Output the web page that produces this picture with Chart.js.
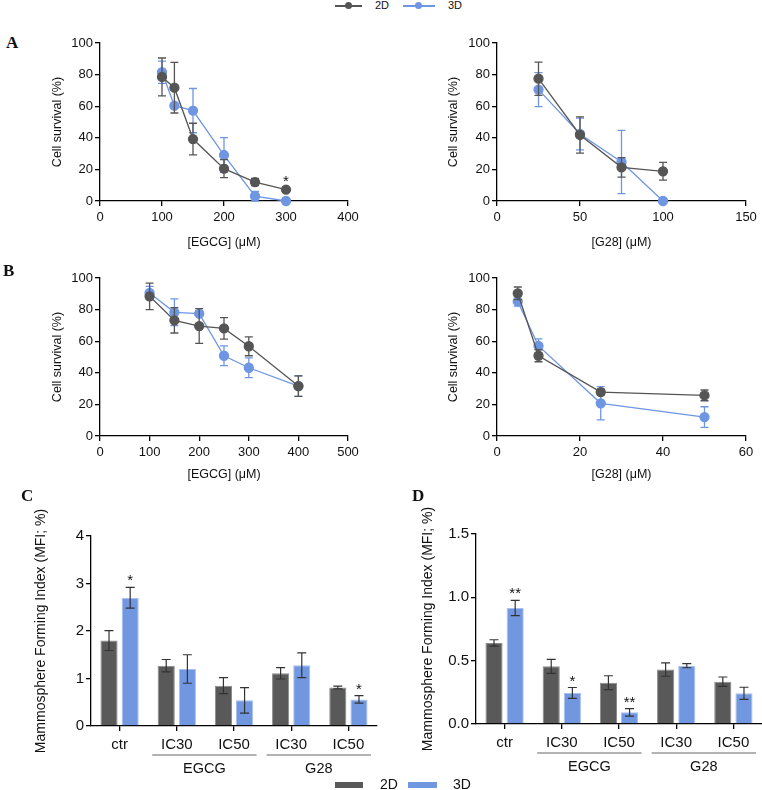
<!DOCTYPE html>
<html>
<head>
<meta charset="utf-8">
<script src="https://cdn.jsdelivr.net/npm/chart.js@4.4.0/dist/chart.umd.min.js"></script>
<style>
  body { margin: 0; background: #fff; width: 762px; height: 790px; position: relative; overflow: hidden;
         font-family: 'Liberation Sans', Arial, sans-serif; color: #111; }
  canvas { position: absolute; }
  .panel { position: absolute; font-family: 'Liberation Serif', 'Times New Roman', serif; font-weight: bold;
           font-size: 17px; line-height: 17px; z-index: 2; }
  .lg { position: absolute; line-height: 1; z-index: 2; }
  .lgline { position: absolute; height: 1.5px; }
  .lgdot { position: absolute; width: 7px; height: 7px; border-radius: 50%; }
  .lgbox { position: absolute; height: 6px; z-index: 2; }
</style>
</head>
<body>

<div class="panel" style="left:6px;top:34px;">A</div>
<div class="panel" style="left:3px;top:262px;">B</div>
<div class="panel" style="left:21px;top:487px;">C</div>
<div class="panel" style="left:412px;top:487px;">D</div>

<!-- top legend (line panels) -->
<div class="lgline" style="left:335px;top:5px;width:27px;background:#555;"></div>
<div class="lgdot" style="left:345px;top:2px;background:#555;"></div>
<div class="lg" style="left:375px;top:0px;font-size:11px;">2D</div>
<div class="lgline" style="left:403px;top:5px;width:32px;background:#6f96e3;"></div>
<div class="lgdot" style="left:415px;top:2px;background:#6f96e3;"></div>
<div class="lg" style="left:448px;top:0px;font-size:11px;">3D</div>

<canvas id="cA1" width="340" height="225" style="left:40px;top:30px;"></canvas>
<canvas id="cA2" width="322" height="225" style="left:440px;top:30px;"></canvas>
<canvas id="cB1" width="340" height="225" style="left:40px;top:265px;"></canvas>
<canvas id="cB2" width="322" height="225" style="left:440px;top:265px;"></canvas>
<canvas id="cC" width="360" height="290" style="left:20px;top:500px;"></canvas>
<canvas id="cD" width="352" height="290" style="left:410px;top:500px;"></canvas>

<!-- bottom legend (bar panels) -->
<div class="lgbox" style="left:335px;top:782px;width:28px;background:#595959;"></div>
<div class="lg" style="left:380px;top:777px;font-size:14px;">2D</div>
<div class="lgbox" style="left:408px;top:782px;width:29px;background:#7097e0;"></div>
<div class="lg" style="left:453px;top:777px;font-size:14px;">3D</div>

<script>
// ---- A: dose response, EGCG ----
const egcgDoseA = [100, 120, 150, 200, 250, 300];
const egcgA2D = [78.5, 71.7, 39.2, 20.5, 12.0, 7.2];
const egcgA2DSd = [12, 16, 10, 5.7, 2.3, 0.6];
const egcgA3D = [81.5, 60.3, 57.2, 29.1, 3.0, 0];
const egcgA3DSd = [7, 1, 14, 11, 3, 0];
const egcgA2DStars = ['', '', '', '', '', '*'];

// ---- A: dose response, G28 ----
const g28DoseA = [25, 50, 75, 100];
const g28A2D = [77.4, 41.8, 21.3, 18.8];
const g28A2DSd = [10.5, 11.5, 6.2, 5.6];
const g28A3D = [70.5, 42.4, 24.7, 0];
const g28A3DSd = [10.8, 10, 20, 0];

// ---- B: dose response, EGCG ----
const egcgDoseB = [100, 150, 200, 250, 300, 400];
const egcgB2D = [88.4, 73.2, 69.6, 68.1, 56.8, 31.6];
const egcgB2DSd = [8.4, 8, 11, 6.8, 6, 6.5];
const egcgB3D = [90.5, 78.3, 77.4, 50.8, 43.2, 31.6];
const egcgB3DSd = [4.2, 8.5, 1.5, 6.3, 6.3, 6.5];

// ---- B: dose response, G28 ----
const g28DoseB = [5, 10, 25, 50];
const g28B2D = [90.3, 50.8, 27.8, 25.7];
const g28B2DSd = [4, 3.8, 1.8, 3.4];
const g28B3D = [85.2, 57.0, 20.7, 12.0];
const g28B3DSd = [3, 4.5, 10.5, 6.5];

// ---- C / D: mammosphere forming index ----
const barCategories = ['ctr', 'IC30', 'IC50', 'IC30', 'IC50'];
const groupNames = ['EGCG', 'G28'];
const groupFirst = [1, 3];
const groupLast = [2, 4];

const mfiC2D = [1.80, 1.27, 0.85, 1.11, 0.81];
const mfiC2DSd = [0.21, 0.13, 0.17, 0.12, 0.03];
const mfiC3D = [2.70, 1.20, 0.54, 1.28, 0.56];
const mfiC3DSd = [0.22, 0.30, 0.27, 0.26, 0.08];
const mfiC3DStars = ['*', '', '', '', '*'];

const mfiD2D = [0.64, 0.455, 0.326, 0.43, 0.334];
const mfiD2DSd = [0.025, 0.055, 0.055, 0.053, 0.037];
const mfiD3D = [0.916, 0.245, 0.092, 0.46, 0.242];
const mfiD3DSd = [0.06, 0.043, 0.03, 0.016, 0.048];
const mfiD3DStars = ['**', '*', '**', '', ''];

const FONT = "'Liberation Sans', Arial, sans-serif";
const DARK = '#555555';
const BLUE = '#6f96e3';

Chart.defaults.color = '#111';
Chart.defaults.font.family = FONT;
Chart.defaults.animation = false;

const toXY = (xs, ys) => xs.map((x, i) => ({ x: x, y: ys[i] }));

// error bars under each line dataset, stars on top
const lineErrPlugin = {
  id: 'lineErr',
  beforeDatasetDraw(chart, args) {
    const ds = chart.data.datasets[args.index];
    if (!ds.sd) return;
    const ys = chart.scales.y, ctx = chart.ctx;
    ctx.save();
    ctx.strokeStyle = ds.borderColor;
    ctx.lineWidth = 1.3;
    args.meta.data.forEach((pt, i) => {
      const s = ds.sd[i];
      if (!s) return;
      const v = ds.data[i].y;
      const yt = ys.getPixelForValue(v + s), yb = ys.getPixelForValue(v - s);
      ctx.beginPath();
      ctx.moveTo(pt.x, yt); ctx.lineTo(pt.x, yb);
      ctx.moveTo(pt.x - 4, yt); ctx.lineTo(pt.x + 4, yt);
      ctx.moveTo(pt.x - 4, yb); ctx.lineTo(pt.x + 4, yb);
      ctx.stroke();
    });
    ctx.restore();
  },
  afterDatasetsDraw(chart) {
    const ys = chart.scales.y, ctx = chart.ctx;
    chart.data.datasets.forEach((ds, di) => {
      if (!ds.stars) return;
      const meta = chart.getDatasetMeta(di);
      ctx.save();
      ctx.fillStyle = '#111';
      ctx.font = '15px ' + FONT;
      ctx.textAlign = 'center';
      ctx.textBaseline = 'alphabetic';
      meta.data.forEach((pt, i) => {
        if (!ds.stars[i]) return;
        const v = ds.data[i].y + (ds.sd ? ds.sd[i] : 0);
        ctx.fillText(ds.stars[i], pt.x, ys.getPixelForValue(v) - 2.5);
      });
      ctx.restore();
    });
  }
};

function lineChart(id, o) {
  const mk = (label, color, xs, ys, sd, stars) => ({
    label: label, data: toXY(xs, ys), sd: sd, stars: stars,
    borderColor: color, backgroundColor: color, pointBackgroundColor: color, pointBorderColor: color,
    borderWidth: 1.3, pointRadius: 4.5, pointHoverRadius: 4.5, clip: false, tension: 0
  });
  return new Chart(document.getElementById(id), {
    type: 'line',
    data: {
      datasets: [
        mk('2D', DARK, o.x2, o.y2, o.sd2, o.stars2),
        mk('3D', BLUE, o.x3, o.y3, o.sd3, null)
      ]
    },
    options: {
      responsive: false,
      devicePixelRatio: 1,
      layout: { padding: { top: o.padTop, right: o.padRight, left: 0, bottom: 0 } },
      plugins: { legend: { display: false }, tooltip: { enabled: false } },
      scales: {
        x: {
          type: 'linear', min: 0, max: o.xMax,
          afterFit: s => { s.height = o.xHeight; },
          border: { color: '#000', width: 1.3 },
          grid: { drawOnChartArea: false, tickLength: 5, color: '#000', lineWidth: 1.3 },
          ticks: { stepSize: o.xStep, padding: 4, font: { size: 13 }, color: '#111' },
          title: { display: true, text: o.xTitle, font: { size: 12.5 }, color: '#111', padding: { bottom: o.xTitlePad } }
        },
        y: {
          min: 0, max: 100,
          afterFit: s => { s.width = o.yWidth; },
          border: { color: '#000', width: 1.3 },
          grid: { drawOnChartArea: false, tickLength: 5, color: '#000', lineWidth: 1.3 },
          ticks: { stepSize: 20, padding: 2, font: { size: 13 }, color: '#111' },
          title: { display: true, text: 'Cell survival (%)', font: { size: 12.5 }, color: '#111', padding: { top: o.yTitlePad } }
        }
      }
    },
    plugins: [lineErrPlugin]
  });
}

lineChart('cA1', { x2: egcgDoseA, y2: egcgA2D, sd2: egcgA2DSd, stars2: egcgA2DStars,
  x3: egcgDoseA, y3: egcgA3D, sd3: egcgA3DSd, xMax: 400, xStep: 100, xTitle: '[EGCG] (μM)',
  padTop: 13, padRight: 32, xHeight: 54, yWidth: 60, xTitlePad: 4.5, yTitlePad: 10.5 });
lineChart('cA2', { x2: g28DoseA, y2: g28A2D, sd2: g28A2DSd, stars2: null,
  x3: g28DoseA, y3: g28A3D, sd3: g28A3DSd, xMax: 150, xStep: 50, xTitle: '[G28] (μM)',
  padTop: 13, padRight: 16, xHeight: 54, yWidth: 57, xTitlePad: 4.5, yTitlePad: 6.5 });
lineChart('cB1', { x2: egcgDoseB, y2: egcgB2D, sd2: egcgB2DSd, stars2: null,
  x3: egcgDoseB, y3: egcgB3D, sd3: egcgB3DSd, xMax: 500, xStep: 100, xTitle: '[EGCG] (μM)',
  padTop: 13, padRight: 32, xHeight: 54, yWidth: 60, xTitlePad: 7.5, yTitlePad: 10.5 });
lineChart('cB2', { x2: g28DoseB, y2: g28B2D, sd2: g28B2DSd, stars2: null,
  x3: g28DoseB, y3: g28B3D, sd3: g28B3DSd, xMax: 60, xStep: 20, xTitle: '[G28] (μM)',
  padTop: 13, padRight: 16, xHeight: 54, yWidth: 57, xTitlePad: 7.5, yTitlePad: 6.5 });

// bar error bars, stars and the EGCG / G28 group brackets
const barExtrasPlugin = {
  id: 'barExtras',
  afterDatasetsDraw(chart) {
    const ys = chart.scales.y, xs = chart.scales.x, ctx = chart.ctx;
    ctx.save();
    chart.data.datasets.forEach((ds, di) => {
      const meta = chart.getDatasetMeta(di);
      meta.data.forEach((bar, i) => {
        const v = ds.data[i], s = ds.sd[i];
        const yt = ys.getPixelForValue(v + s), yb = ys.getPixelForValue(v - s);
        ctx.strokeStyle = '#333';
        ctx.lineWidth = 1.2;
        ctx.beginPath();
        ctx.moveTo(bar.x, yt); ctx.lineTo(bar.x, yb);
        ctx.moveTo(bar.x - 4.5, yt); ctx.lineTo(bar.x + 4.5, yt);
        ctx.moveTo(bar.x - 4.5, yb); ctx.lineTo(bar.x + 4.5, yb);
        ctx.stroke();
        if (ds.stars && ds.stars[i]) {
          ctx.fillStyle = '#111';
          ctx.font = '15px ' + FONT;
          ctx.textAlign = 'center';
          ctx.textBaseline = 'alphabetic';
          ctx.fillText(ds.stars[i], bar.x, yt - 2);
        }
      });
    });
    const half = (xs.getPixelForValue(1) - xs.getPixelForValue(0)) / 2;
    const yLine = xs.top + 29;
    groupNames.forEach((g, k) => {
      const x0 = xs.getPixelForValue(groupFirst[k]) - half + 4;
      const x1 = xs.getPixelForValue(groupLast[k]) + half - 6;
      ctx.strokeStyle = '#666';
      ctx.lineWidth = 1;
      ctx.beginPath();
      ctx.moveTo(x0, yLine); ctx.lineTo(x1, yLine);
      ctx.stroke();
      ctx.fillStyle = '#111';
      ctx.font = '14.5px ' + FONT;
      ctx.textAlign = 'center';
      ctx.textBaseline = 'middle';
      ctx.fillText(g, (x0 + x1) / 2, yLine + 14);
    });
    ctx.restore();
  }
};

function barChart(id, o) {
  const mk = (label, fill, edge, vals, sd, stars) => ({
    label: label, data: vals, sd: sd, stars: stars,
    backgroundColor: fill, borderColor: edge, borderWidth: 1,
    barPercentage: 0.81, categoryPercentage: 0.74
  });
  return new Chart(document.getElementById(id), {
    type: 'bar',
    data: {
      labels: barCategories,
      datasets: [
        mk('2D', '#595959', '#8a8a8a', o.v2, o.sd2, null),
        mk('3D', '#7097e0', '#a9c0ee', o.v3, o.sd3, o.stars3)
      ]
    },
    options: {
      responsive: false,
      devicePixelRatio: 1,
      layout: { padding: { top: o.padTop, right: o.padRight, left: 0, bottom: 0 } },
      plugins: { legend: { display: false }, tooltip: { enabled: false } },
      scales: {
        x: {
          afterFit: s => { s.height = o.xHeight; },
          border: { color: '#000', width: 1.3 },
          grid: { offset: false, drawOnChartArea: false, tickLength: 5, color: '#000', lineWidth: 1.3 },
          ticks: { padding: 5, font: { size: 15 }, color: '#111' }
        },
        y: {
          min: 0, max: o.yMax,
          afterFit: s => { s.width = o.yWidth; },
          border: { color: '#000', width: 1.3 },
          grid: { drawOnChartArea: false, tickLength: 5, color: '#000', lineWidth: 1.3 },
          ticks: { stepSize: o.yStep, padding: 2, font: { size: 15 }, color: '#111',
                   callback: v => v.toFixed(o.yDec) },
          title: { display: true, text: 'Mammosphere Forming Index (MFI; %)', font: { size: 14 }, color: '#111',
                   padding: { top: o.yTitlePad } }
        }
      }
    },
    plugins: [barExtrasPlugin]
  });
}

barChart('cC', { v2: mfiC2D, sd2: mfiC2DSd, v3: mfiC3D, sd3: mfiC3DSd, stars3: mfiC3DStars,
  yMax: 4, yStep: 1, yDec: 0, padTop: 36, padRight: 3, xHeight: 64, yWidth: 71, yTitlePad: 12.6 });
barChart('cD', { v2: mfiD2D, sd2: mfiD2DSd, v3: mfiD3D, sd3: mfiD3DSd, stars3: mfiD3DStars,
  yMax: 1.5, yStep: 0.5, yDec: 1, padTop: 34, padRight: 0, xHeight: 66, yWidth: 66, yTitlePad: 9.6 });
</script>
</body>
</html>
